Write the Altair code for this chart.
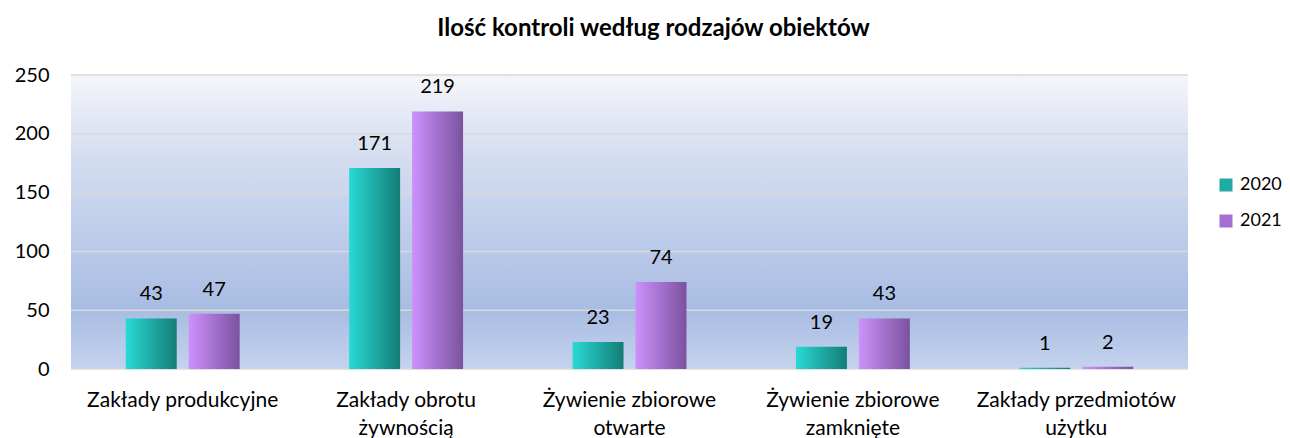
import altair as alt
import pandas as pd

categories = [
    "Zakłady produkcyjne",
    "Zakłady obrotu\nżywnością",
    "Żywienie zbiorowe\notwarte",
    "Żywienie zbiorowe\nzamknięte",
    "Zakłady przedmiotów\nużytku",
]
years = ["2020", "2021"]
values_2020 = [43, 171, 23, 19, 1]
values_2021 = [47, 219, 74, 43, 2]
y_ticks = [0, 50, 100, 150, 200, 250]
title_text = "Ilość kontroli według rodzajów obiektów"

rows = []
for c, v in zip(categories, values_2020):
    rows.append({"cat": c, "year": "2020", "val": v})
for c, v in zip(categories, values_2021):
    rows.append({"cat": c, "year": "2021", "val": v})
df = pd.DataFrame(rows)
grid_df = pd.DataFrame({"val": y_ticks})

FONT = "Lato"


def grad(stops, horizontal=True):
    return alt.LinearGradient(
        gradient="linear",
        stops=[alt.GradientStop(color=c, offset=o) for o, c in stops],
        x1=0, x2=1 if horizontal else 0, y1=0, y2=0 if horizontal else 1,
    )


teal = grad([(0, "#2ad9d5"), (1, "#137d77")])
purple = grad([(0, "#cd91fb"), (1, "#7a529f")])
bg = grad([(0, "#f5f6fb"), (0.2, "#dce3f2"), (0.4, "#cad6ee"), (0.6, "#b8c8e8"),
           (0.8, "#a8bce2"), (1, "#c5d3ee")], horizontal=False)

x_enc = alt.X(
    "cat:N", sort=categories,
    scale=alt.Scale(paddingInner=0.49, paddingOuter=0.245),
    axis=alt.Axis(title=None, labelAngle=0, labelExpr="split(datum.label, '\\n')",
                  ticks=False, domain=False, labelFontSize=21, labelFont=FONT,
                  labelColor="#000000", labelPadding=20, labelLineHeight=28,
                  labelLimit=400),
)
xo_enc = alt.XOffset("year:N", scale=alt.Scale(domain=years, paddingInner=0.19, paddingOuter=0))
y_enc = alt.Y(
    "val:Q", scale=alt.Scale(domain=[0, 250], nice=False),
    axis=alt.Axis(title=None, values=y_ticks, grid=False, domain=False, ticks=False,
                  labelFontSize=20, labelFont=FONT, labelColor="#000000", labelPadding=22),
)

background = alt.Chart(alt.Data(values=[{}])).mark_rect(fill=bg).encode(
    x=alt.value(0), x2=alt.value("width"), y=alt.value(0), y2=alt.value("height")
)
grid = alt.Chart(grid_df).mark_rule(color="#d9d9d9", strokeWidth=1.5).encode(y=y_enc)

base = alt.Chart(df)
bars20 = base.transform_filter(alt.datum.year == "2020").mark_bar(fill=teal).encode(
    x=x_enc, xOffset=xo_enc, y=y_enc)
bars21 = base.transform_filter(alt.datum.year == "2021").mark_bar(fill=purple).encode(
    x=x_enc, xOffset=xo_enc, y=y_enc)
labels = base.mark_text(dy=-18, baseline="alphabetic", fontSize=20, font=FONT, color="#000000").encode(
    x=x_enc, xOffset=xo_enc, y=y_enc, text="val:Q")
legend_layer = base.mark_point(shape="square", filled=True, opacity=0).encode(
    x=x_enc, xOffset=xo_enc, y=y_enc,
    color=alt.Color("year:N", scale=alt.Scale(domain=years, range=["#20aaa6", "#a56fd1"]),
                    legend=alt.Legend(title=None, orient="none", legendX=1146, legendY=101,
                                      symbolType="square", symbolSize=169, symbolOpacity=1,
                                      labelFontSize=18, labelFont=FONT, labelColor="#000000",
                                      rowPadding=18, labelOffset=5)),
)

chart = alt.layer(background, grid, bars20, bars21, labels, legend_layer).properties(
    width=1117, height=294,
    title=alt.TitleParams(title_text, anchor="middle", fontSize=24, font=FONT,
                          fontWeight="bold", color="#000000", dx=24, offset=24),
    autosize=alt.AutoSizeParams(type="none"),
    padding={"left": 63, "top": 67, "right": 94, "bottom": 69},
).configure_view(stroke=None)

chart.save("out.html", embed_options={"renderer": "svg", "actions": False})
